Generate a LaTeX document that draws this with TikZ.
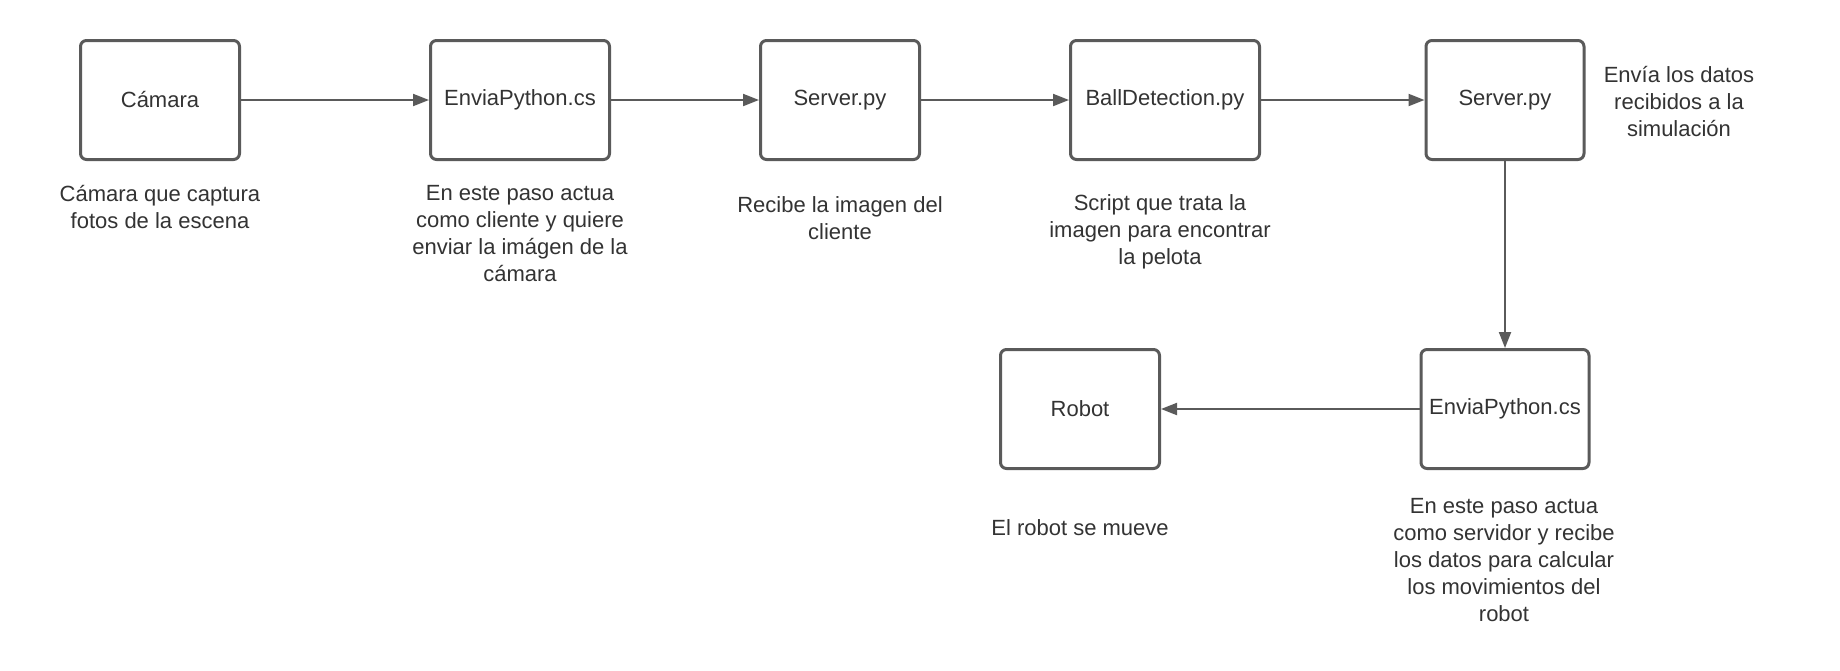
\documentclass[tikz,border=0pt]{standalone}
\usepackage{fontspec}
\setmainfont{Liberation Sans}
\usetikzlibrary{arrows.meta}
\definecolor{boxc}{HTML}{5A5A5A}
\definecolor{txtc}{HTML}{333333}
\begin{document}
\begin{tikzpicture}[x=1pt,y=-1pt,
  box/.style={draw=boxc, line width=3pt, rounded corners=6pt, minimum height=119pt, text=txtc, font=\fontsize{22}{27}\selectfont, inner sep=0pt},
  lbl/.style={text=txtc, align=center, font=\fontsize{22}{27}\selectfont, inner sep=0pt},
  arr/.style={draw=boxc, line width=2pt, -{Triangle[length=16pt,width=12pt]}}
]
\useasboundingbox (0,0) rectangle (1840,670);
\fill[white] (0,0) rectangle (1840,670);

\node[box, minimum width=159pt] (cam) at (160,100) {Cámara};
\node[box, minimum width=179pt] (env) at (520,100) {EnviaPython.cs};
\node[box, minimum width=159pt] (srv) at (840,100) {Server.py};
\node[box, minimum width=189pt] (ball) at (1165,100) {BallDetection.py};
\node[box, minimum width=158pt] (srv2) at (1505,100) {Server.py};
\node[box, minimum width=168pt] (env2) at (1505,409) {EnviaPython.cs};
\node[box, minimum width=159pt] (rob) at (1080,409) {Robot};

\node[lbl] (l1) at (160,207) {Cámara que captura\\fotos de la escena};
\node[lbl] (l2) at (520,234) {En este paso actua\\como cliente y quiere\\enviar la imágen de la\\cámara};
\node[lbl] (l3) at (840,218.5) {Recibe la imagen del\\cliente};
\node[lbl] (l4) at (1160,232) {Script que trata la\\imagen para encontrar\\la pelota};
\node[lbl] (l5) at (1679,102) {Envía los datos\\recibidos a la\\simulación};
\node[lbl] (l6) at (1504,560) {En este paso actua\\como servidor y recibe\\los datos para calcular\\los movimientos del\\robot};
\node[lbl] (l7) at (1080,528) {El robot se mueve};

\draw[arr] (cam) -- (env);
\draw[arr] (env) -- (srv);
\draw[arr] (srv) -- (ball);
\draw[arr] (ball) -- (srv2);
\draw[arr] (srv2) -- (env2);
\draw[arr] (env2) -- (rob);
\end{tikzpicture}
\end{document}
